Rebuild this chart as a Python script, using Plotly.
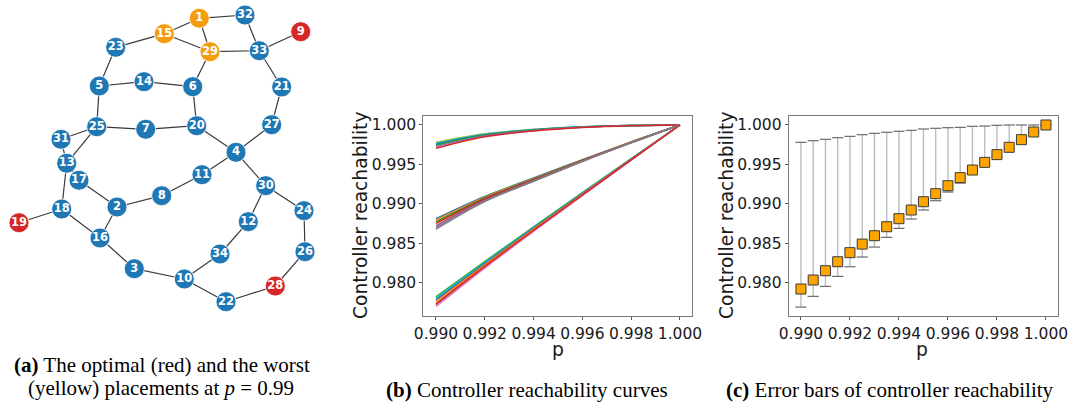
import plotly.graph_objects as go

W, H = 1070, 408

# ---------------- Panel (a): network ----------------
node_ids = [1, 32, 9, 15, 29, 33, 23, 5, 14, 6, 21, 25, 7, 20, 27, 31, 4, 13, 17,
            11, 30, 8, 2, 18, 24, 19, 12, 16, 34, 26, 3, 10, 28, 22]
node_x = [199.3, 245.0, 300.7, 164.3, 210.0, 259.3, 115.7, 99.3, 144.0, 192.7, 281.7,
          96.7, 145.7, 196.7, 271.7, 61.0, 236.0, 66.7, 79.0, 202.0, 265.7, 161.7,
          117.0, 61.7, 304.0, 19.0, 248.3, 100.0, 220.0, 305.0, 134.3, 184.3, 275.3, 226.0]
node_y = [18.3, 15.0, 31.7, 33.7, 51.7, 50.7, 47.3, 86.0, 81.7, 86.7, 87.0,
          126.7, 129.3, 125.7, 124.7, 139.3, 152.3, 163.3, 180.3, 174.7, 185.7, 195.7,
          207.0, 209.0, 210.7, 222.7, 221.7, 238.0, 254.0, 251.7, 268.7, 279.0, 286.0, 301.7]
optimal_nodes = [9, 19, 28]
worst_nodes = [1, 15, 29]
edges = [(1, 32), (1, 15), (1, 29), (15, 29), (15, 23), (32, 33), (29, 33), (33, 9),
         (29, 6), (23, 5), (5, 14), (14, 6), (33, 21), (21, 27), (5, 25), (6, 20),
         (25, 7), (7, 20), (20, 4), (27, 4), (25, 31), (25, 13), (31, 13), (13, 18),
         (13, 17), (17, 2), (2, 8), (8, 11), (11, 4), (4, 30), (30, 24), (30, 12),
         (12, 34), (34, 10), (24, 26), (26, 28), (28, 22), (22, 10), (10, 3), (3, 16),
         (16, 2), (16, 18), (18, 19)]

# ---------------- Panel (b): reachability curves ----------------
p_curve = [0.990, 0.992, 0.994, 0.996, 0.998, 1.000]
curve_colors = ["#bcbd22", "#17becf", "#1f77b4", "#2ca02c", "#9467bd", "#d62728",
                "#1f77b4", "#ff7f0e", "#2ca02c", "#d62728", "#8c564b", "#9467bd", "#7f7f7f",
                "#2ca02c", "#17becf", "#1f77b4", "#ff7f0e", "#8c564b", "#e377c2", "#d62728"]
curve_values = [
    # upper bundle
    [0.99780, 0.99888, 0.99945, 0.99979, 0.99995, 1.0],
    [0.99768, 0.99882, 0.99942, 0.99977, 0.99994, 1.0],
    [0.99755, 0.99876, 0.99938, 0.99975, 0.99993, 1.0],
    [0.99742, 0.99869, 0.99934, 0.99973, 0.99993, 1.0],
    [0.99728, 0.99862, 0.99930, 0.99971, 0.99992, 1.0],
    [0.99705, 0.99850, 0.99924, 0.99968, 0.99991, 1.0],
    # middle bundle
    [0.98812, 0.99095, 0.99327, 0.99561, 0.99786, 1.0],
    [0.98792, 0.99085, 0.99320, 0.99557, 0.99784, 1.0],
    [0.98772, 0.99075, 0.99313, 0.99553, 0.99782, 1.0],
    [0.98752, 0.99065, 0.99306, 0.99549, 0.99780, 1.0],
    [0.98722, 0.99050, 0.99297, 0.99544, 0.99777, 1.0],
    [0.98697, 0.99037, 0.99290, 0.99540, 0.99775, 1.0],
    [0.98680, 0.99029, 0.99285, 0.99537, 0.99773, 1.0],
    # lower bundle
    [0.97822, 0.98268, 0.98708, 0.99143, 0.99574, 1.0],
    [0.97802, 0.98253, 0.98698, 0.99136, 0.99570, 1.0],
    [0.97782, 0.98240, 0.98688, 0.99130, 0.99567, 1.0],
    [0.97762, 0.98227, 0.98679, 0.99124, 0.99564, 1.0],
    [0.97722, 0.98200, 0.98660, 0.99111, 0.99557, 1.0],
    [0.97700, 0.98186, 0.98650, 0.99105, 0.99554, 1.0],
    [0.97732, 0.98207, 0.98665, 0.99114, 0.99558, 1.0],
]

# ---------------- Panel (c): error bars ----------------
p_err = [0.9900, 0.9905, 0.9910, 0.9915, 0.9920, 0.9925, 0.9930, 0.9935, 0.9940, 0.9945,
         0.9950, 0.9955, 0.9960, 0.9965, 0.9970, 0.9975, 0.9980, 0.9985, 0.9990, 0.9995, 1.0000]
mean_vals = [0.97920, 0.98034, 0.98152, 0.98266, 0.98381, 0.98490, 0.98596, 0.98710, 0.98812,
             0.98922, 0.99027, 0.99129, 0.99230, 0.99332, 0.99429, 0.99526, 0.99624, 0.99717,
             0.99814, 0.99911, 1.00000]
max_vals = [0.99780, 0.99801, 0.99818, 0.99839, 0.99856, 0.99877, 0.99894, 0.99907, 0.99920,
            0.99932, 0.99949, 0.99958, 0.99966, 0.99970, 0.99983, 0.99987, 0.99996, 1.00000,
            1.00000, 1.00000, 1.00000]
min_vals = [0.97691, 0.97827, 0.97953, 0.98080, 0.98203, 0.98326, 0.98452, 0.98575, 0.98689,
            0.98808, 0.98922, 0.99040, 0.99150, 0.99264, 0.99380, 0.99490, 0.99595, 0.99695,
            0.99800, 0.99905, 1.00000]

x_ticks = [0.990, 0.992, 0.994, 0.996, 0.998, 1.000]
y_ticks = [0.980, 0.985, 0.990, 0.995, 1.000]

fig = go.Figure()

# network edges
pos = {n: (x, y) for n, x, y in zip(node_ids, node_x, node_y)}
ex, ey = [], []
for a, b in edges:
    ex += [pos[a][0], pos[b][0], None]
    ey += [pos[a][1], pos[b][1], None]
fig.add_trace(go.Scatter(x=ex, y=ey, mode="lines", line=dict(color="#3a3a3a", width=1.2),
                         xaxis="x3", yaxis="y3", hoverinfo="skip", showlegend=False, cliponaxis=False))
node_colors = ["#d62728" if n in optimal_nodes else ("#f59c0f" if n in worst_nodes else "#1f77b4")
               for n in node_ids]
fig.add_trace(go.Scatter(x=node_x, y=node_y, mode="markers+text", text=[str(n) for n in node_ids],
                         textposition="middle center",
                         textfont=dict(family="DejaVu Sans", size=11.5, color="white", weight="bold"),
                         marker=dict(size=20, color=node_colors, line=dict(color="white", width=0.8)),
                         xaxis="x3", yaxis="y3", showlegend=False, cliponaxis=False))

# curves
for vals, col in zip(curve_values, curve_colors):
    fig.add_trace(go.Scatter(x=p_curve, y=vals, mode="lines", line=dict(color=col, width=1.5),
                             xaxis="x", yaxis="y", showlegend=False, line_shape="spline"))

# error bars: light vertical bars + darker caps
err_plus = [mx - m for mx, m in zip(max_vals, mean_vals)]
err_minus = [m - mn for mn, m in zip(min_vals, mean_vals)]
fig.add_trace(go.Scatter(x=p_err, y=mean_vals, mode="markers", marker=dict(size=0.1, opacity=0),
                         error_y=dict(type="data", symmetric=False, array=err_plus,
                                      arrayminus=err_minus, color="#bdbdbd",
                                      thickness=1.4, width=0),
                         xaxis="x2", yaxis="y2", showlegend=False, hoverinfo="skip"))
fig.add_trace(go.Scatter(x=p_err + p_err, y=max_vals + min_vals, mode="markers",
                         marker=dict(symbol="line-ew", size=8, line=dict(color="#6a6a6a", width=1.2)),
                         xaxis="x2", yaxis="y2", showlegend=False, cliponaxis=False, hoverinfo="skip"))
fig.add_trace(go.Scatter(x=p_err, y=mean_vals, mode="markers",
                         marker=dict(symbol="square", size=10, color="#ffa500",
                                     line=dict(color="#3a3a3a", width=1)),
                         xaxis="x2", yaxis="y2", showlegend=False, cliponaxis=False))

tick_font = dict(family="DejaVu Sans", size=15.5, color="#1a1a1a")
ax_common = dict(showgrid=False, zeroline=False, showline=True, mirror=True, linecolor="#7a7a7a",
                 linewidth=1, ticks="outside", ticklen=3, tickcolor="#555", tickfont=tick_font,
                 tickangle=0, automargin=False)

y_dom = [1 - 316 / H, 1 - 116 / H]
fig.update_layout(
    width=W, height=H, margin=dict(l=0, r=0, t=0, b=0),
    paper_bgcolor="white", plot_bgcolor="white",
    xaxis=dict(domain=[423.3 / W, 691.7 / W], range=[0.98948, 1.00048], tickvals=x_ticks,
               tickformat=".3f", anchor="y", **ax_common),
    yaxis=dict(domain=y_dom, range=[0.97578, 1.00114], tickvals=y_ticks, tickformat=".3f",
               anchor="x", **ax_common),
    xaxis2=dict(domain=[788.7 / W, 1057.7 / W], range=[0.9895, 1.00048], tickvals=x_ticks,
                tickformat=".3f", anchor="y2", **ax_common),
    yaxis2=dict(domain=y_dom, range=[0.97578, 1.00114], tickvals=y_ticks, tickformat=".3f",
                anchor="x2", **ax_common),
    xaxis3=dict(domain=[0, 330 / W], range=[0, 330], visible=False, anchor="y3"),
    yaxis3=dict(domain=[1 - 312 / H, 1], range=[312, 0], visible=False, anchor="x3"),
)

ann = []
label_font = dict(family="DejaVu Sans", size=18.7, color="#1a1a1a")
for xc in [360, 726]:
    ann.append(dict(x=xc / W, y=1 - 216 / H, xref="paper", yref="paper", text="Controller reachability",
                    textangle=-90, showarrow=False, font=label_font, xanchor="center", yanchor="middle"))
for xc in [558, 922]:
    ann.append(dict(x=xc / W, y=1 - 349 / H, xref="paper", yref="paper", text="p",
                    showarrow=False, font=label_font, xanchor="center", yanchor="middle"))
cap_font = dict(family="Liberation Serif", size=21, color="black")
ann.append(dict(x=162 / W, y=1 - 365 / H, xref="paper", yref="paper",
                text="<b>(a)</b> The optimal (red) and the worst", showarrow=False, font=cap_font,
                xanchor="center", yanchor="middle"))
ann.append(dict(x=161 / W, y=1 - 388 / H, xref="paper", yref="paper",
                text="(yellow) placements at <i>p</i> = 0.99", showarrow=False, font=cap_font,
                xanchor="center", yanchor="middle"))
ann.append(dict(x=526.5 / W, y=1 - 390 / H, xref="paper", yref="paper",
                text="<b>(b)</b> Controller reachability curves", showarrow=False, font=cap_font,
                xanchor="center", yanchor="middle"))
ann.append(dict(x=890 / W, y=1 - 390 / H, xref="paper", yref="paper",
                text="<b>(c)</b> Error bars of controller reachability", showarrow=False, font=cap_font,
                xanchor="center", yanchor="middle"))
fig.update_layout(annotations=ann)

fig.write_html("out.html")
